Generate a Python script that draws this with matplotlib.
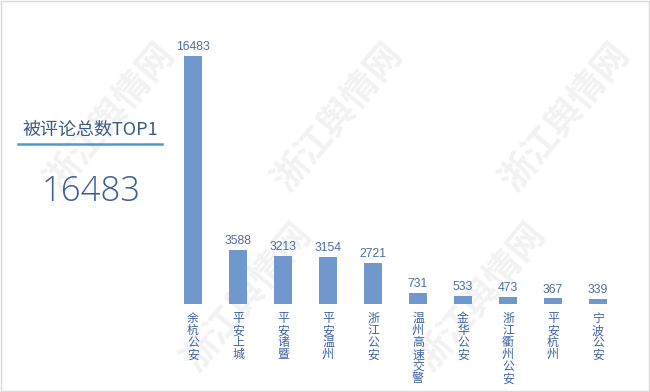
import matplotlib
matplotlib.use("Agg")
import matplotlib.pyplot as plt
from matplotlib.patches import Rectangle

plt.rcParams['font.family'] = ['Noto Sans CJK SC', 'DejaVu Sans']

names = ["余杭公安", "平安上城", "平安诸暨", "平安温州", "浙江公安",
         "温州高速交警", "金华公安", "浙江衢州公安", "平安杭州", "宁波公安"]
counts = [16483, 3588, 3213, 3154, 2721, 731, 533, 473, 367, 339]

title_text = "被评论总数TOP1"
top_value = "16483"

bar_color = "#7098cc"
num_color = "#4f6e9e"
cat_color = "#3f63a0"

fig = plt.figure(figsize=(6.5, 3.92), dpi=100)
fig.patch.set_facecolor("white")

# faint watermarks
for (wx, wy) in [(0.17, 0.70), (0.52, 0.70), (0.87, 0.70), (0.38, 0.24), (0.74, 0.24)]:
    fig.text(wx, wy, "浙江舆情网", fontsize=26, color="#f2f2f2", rotation=50,
             ha="center", va="center", fontweight="bold", zorder=-5)

# light border
fig.add_artist(Rectangle((0.002, 0.003), 0.996, 0.994, transform=fig.transFigure,
                         fill=False, edgecolor="#d9d9d9", lw=1))

ax = fig.add_axes([170.5 / 650, 88 / 392, 450 / 650, 270.8 / 392])
ax.set_zorder(2)
ax.patch.set_alpha(0)
x = list(range(len(names)))
ax.bar(x, counts, width=0.4, color=bar_color, zorder=2)
ax.set_xlim(-0.5, len(names) - 0.5)
ax.set_ylim(0, 18000)
for s in ax.spines.values():
    s.set_visible(False)
ax.set_xticks([])
ax.set_yticks([])

for i, v in enumerate(counts):
    ax.annotate(str(v), (i, v), xytext=(0, 2), textcoords="offset points",
                ha="center", va="bottom", fontsize=8.7, color=num_color,
                family="Liberation Sans")
    ax.annotate("\n".join(names[i]), (i, 0), xytext=(0, -6), textcoords="offset points",
                ha="center", va="top", fontsize=8.6, color=cat_color,
                linespacing=0.9, annotation_clip=False)

# left summary panel
fig.text(90 / 650, 1 - 130 / 392, title_text, fontsize=13, color="#3d5a80",
         ha="center", va="center")
fig.add_artist(plt.Line2D([18 / 650, 162 / 650], [1 - 144 / 392, 1 - 144 / 392],
                          color="#4a9ad8", lw=1.8, transform=fig.transFigure))
fig.text(91 / 650, 1 - 192 / 392, top_value, fontsize=25, color="#3a5e96",
         ha="center", va="center", family="Open Sans", fontweight="light")

fig.savefig("out.png", dpi=100, facecolor="white")
